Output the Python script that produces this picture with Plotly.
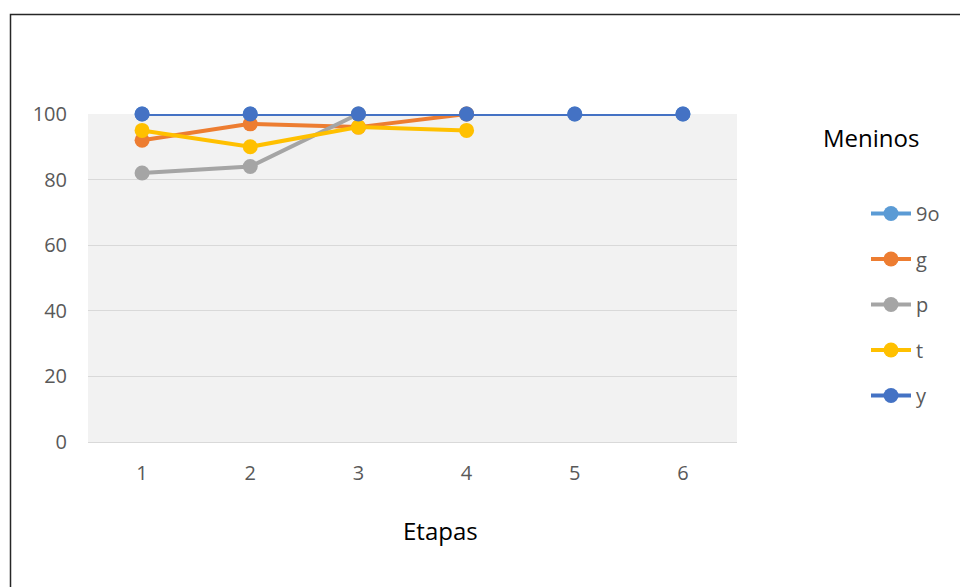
import plotly.graph_objects as go

etapas = [1, 2, 3, 4, 5, 6]
s_9o = [100, 100, 100, 100, 100, 100]
s_g = [92, 97, 96, 100, None, None]
s_p = [82, 84, 100, None, None, None]
s_t = [95, 90, 96, 95, None, None]
s_y = [100, 100, 100, 100, 100, 100]

series = [
    ("9o", s_9o, "#5B9BD5"),
    ("g", s_g, "#ED7D31"),
    ("p", s_p, "#A5A5A5"),
    ("t", s_t, "#FFC000"),
    ("y", s_y, "#4472C4"),
]

W, H = 960, 587
L, R, T, B = 88, 737, 114, 442
pw, ph = R - L, B - T

fig = go.Figure()
for i, (name, vals, col) in enumerate(series):
    fig.add_trace(go.Scatter(
        x=etapas, y=vals, name=name, mode="lines+markers",
        line=dict(color=col, width=4),
        marker=dict(color=col, size=15),
        cliponaxis=False, legendgroup=name,
    ))

font = "Open Sans, DejaVu Sans, sans-serif"
fig.update_layout(
    width=W, height=H,
    margin=dict(l=L, r=W - R, t=T, b=H - B, pad=0),
    paper_bgcolor="white", plot_bgcolor="#F2F2F2",
    font=dict(family=font, color="#595959", size=20),
    showlegend=True,
    legend=dict(
        x=(866 - L) / pw, y=1 - (194 - T) / ph, xanchor="left", yanchor="top",
        font=dict(size=20, color="#595959"), tracegroupgap=16.5,
        itemwidth=40, bgcolor="rgba(0,0,0,0)",
    ),
    xaxis=dict(
        range=[0.5, 6.5], tickvals=etapas, ticktext=[str(e) for e in etapas],
        showgrid=False, zeroline=False, showline=True, linecolor="#D9D9D9",
        ticks="", ticklabelstandoff=13,
    ),
    yaxis=dict(
        range=[0, 100], tickvals=[0, 20, 40, 60, 80, 100],
        showgrid=True, gridcolor="#D9D9D9", gridwidth=1, zeroline=False,
        ticks="", ticklabelstandoff=20,
    ),
    annotations=[
        dict(
            text="Meninos", xref="paper", yref="paper",
            x=(871 - L) / pw, y=1 - (137 - T) / ph, xanchor="center", yanchor="middle",
            showarrow=False, font=dict(size=24, color="#000000", family=font),
        ),
        dict(
            text="Etapas", xref="paper", yref="paper",
            x=(440 - L) / pw, y=1 - (530 - T) / ph, xanchor="center", yanchor="middle",
            showarrow=False, font=dict(size=24, color="#000000", family=font),
        ),
    ],
    shapes=[dict(
        type="rect", xref="paper", yref="paper",
        x0=(10.5 - L) / pw, x1=(965 - L) / pw,
        y0=1 - (595 - T) / ph, y1=1 - (14.5 - T) / ph,
        line=dict(color="#262626", width=1.5), fillcolor="rgba(0,0,0,0)", layer="below",
    )],
)

fig.write_html(
    "out.html",
    config={"displayModeBar": False},
    post_script="document.body.style.margin='0';document.body.style.overflow='hidden';",
)
